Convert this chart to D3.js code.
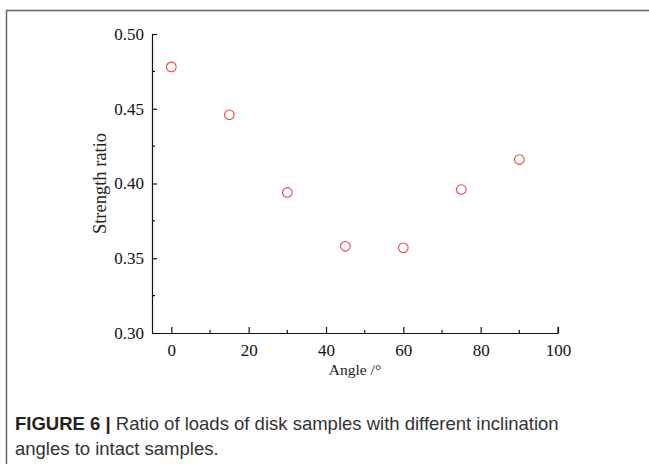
<!DOCTYPE html>
<html lang="en">
<head>
    <meta charset="UTF-8">
    <title>Strength ratio vs angle</title>
    <script src="https://d3js.org/d3.v7.min.js"></script>
    <style>
        body { margin: 0; background: #fff; }
        .axis text { font-family: "Liberation Serif", "Times New Roman", serif; font-size: 17px; fill: #111; }
        .axis path, .axis line { stroke: #111; stroke-width: 1.2; }
        .caption { font-family: "Liberation Sans", Arial, sans-serif; font-size: 18.5px; fill: #333; }
    </style>
</head>
<body>
    <div id="chart"></div>
    <script>
        // data
        const angles = [0, 15, 30, 45, 60, 75, 90];
        const ratios = [0.478, 0.446, 0.394, 0.358, 0.357, 0.396, 0.416];
        const xTicks = [0, 20, 40, 60, 80, 100];
        const yTicks = [0.30, 0.35, 0.40, 0.45, 0.50];

        const W = 649, H = 464;
        const svg = d3.select("#chart").append("svg")
            .attr("width", W)
            .attr("height", H);

        // panel frame (top + left only)
        svg.append("path")
            .attr("d", `M6.5,${H} V10.5 H${W}`)
            .attr("fill", "none")
            .attr("stroke", "#666")
            .attr("stroke-width", 1.5);

        const x = d3.scaleLinear().domain([-5, 100]).range([152, 558]);
        const y = d3.scaleLinear().domain([0.30, 0.50]).range([333, 34]);

        // minor ticks
        const xMinor = d3.range(10, 100, 20);
        const yMinor = d3.range(0.325, 0.5, 0.05);

        const gx = svg.append("g")
            .attr("class", "axis")
            .attr("transform", `translate(0,${y(0.30)})`)
            .call(d3.axisBottom(x).tickValues(xTicks).tickSize(-6).tickSizeOuter(0).tickPadding(11).tickFormat(d3.format("d")));
        gx.selectAll(".minor").data(xMinor).enter().append("line")
            .attr("class", "minor")
            .attr("x1", d => x(d)).attr("x2", d => x(d))
            .attr("y1", 0).attr("y2", -3)
            .attr("stroke", "#111");
        gx.append("line")
            .attr("x1", x(100)).attr("x2", x(100))
            .attr("y1", 0).attr("y2", -6)
            .attr("stroke", "#111");

        const gy = svg.append("g")
            .attr("class", "axis")
            .attr("transform", `translate(${x(-5)},0)`)
            .call(d3.axisLeft(y).tickValues(yTicks).tickSize(-5).tickSizeOuter(0).tickPadding(8).tickFormat(d3.format(".2f")));
        gy.selectAll(".minor").data(yMinor).enter().append("line")
            .attr("class", "minor")
            .attr("y1", d => y(d)).attr("y2", d => y(d))
            .attr("x1", 0).attr("x2", 3)
            .attr("stroke", "#111");

        // axis titles
        svg.append("text")
            .attr("x", (x(-5) + x(100)) / 2)
            .attr("y", 375)
            .attr("text-anchor", "middle")
            .style("font-family", "'Liberation Serif', 'Times New Roman', serif")
            .style("font-size", "15.5px")
            .style("fill", "#222")
            .text("Angle /°");

        svg.append("text")
            .attr("transform", `translate(106,${(y(0.30) + y(0.50)) / 2}) rotate(-90)`)
            .attr("text-anchor", "middle")
            .style("font-family", "'Liberation Serif', 'Times New Roman', serif")
            .style("font-size", "18.5px")
            .style("fill", "#222")
            .text("Strength ratio");

        // points
        svg.selectAll(".pt")
            .data(angles.map((a, i) => ({ a, r: ratios[i] })))
            .enter().append("circle")
            .attr("class", "pt")
            .attr("cx", d => x(d.a))
            .attr("cy", d => y(d.r))
            .attr("r", 4.8)
            .attr("fill", "none")
            .attr("stroke", "#f24444")
            .attr("stroke-width", 1.1);

        // caption
        const cap1 = svg.append("text").attr("class", "caption").attr("x", 15).attr("y", 430);
        cap1.append("tspan").style("font-weight", "bold").style("fill", "#222").text("FIGURE 6 | ");
        cap1.append("tspan").text("Ratio of loads of disk samples with different inclination");
        svg.append("text").attr("class", "caption").attr("x", 15).attr("y", 455)
            .text("angles to intact samples.");
    </script>
</body>
</html>
